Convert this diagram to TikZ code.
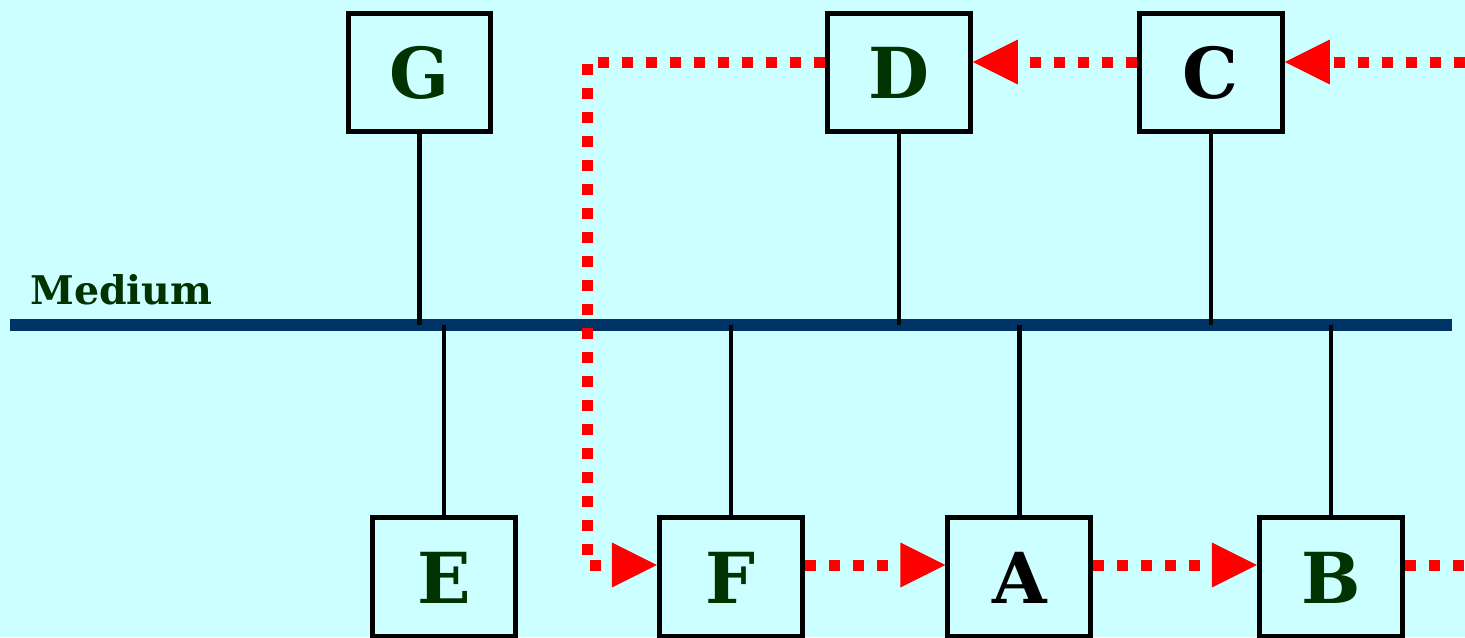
\documentclass[tikz,border=0pt]{standalone}
\usepackage{fontspec}
\setmainfont{DejaVu Serif}
\usetikzlibrary{arrows.meta}
\definecolor{bgcyan}{RGB}{204,255,255}
\definecolor{darkgreen}{RGB}{0,51,0}
\definecolor{medblue}{RGB}{0,51,102}
\tikzstyle{station} = [rectangle,draw,line width=0.1cm,minimum width=2.86cm,minimum height=2.38cm,text centered,font=\fontsize{40}{48}\selectfont\bfseries,text=darkgreen]
\tikzstyle{tap} = [line width=0.09cm]
\tikzstyle{token} = [red,line width=0.22cm,dash pattern=on 0.22cm off 0.26cm]
\tikzstyle{tokenarrow} = [token,-{Triangle[length=0.9cm,width=0.9cm,line width=0pt]}]

\begin{document}
\begin{tikzpicture}[x=0.02cm,y=-0.02cm]
		\fill[bgcyan] (0,0) rectangle (1465,637);
		\useasboundingbox (0,0) rectangle (1465,637);

		\node [station] (g) at (419.5,72.5) {G};
		\node [station,right of=g,xshift=8.59cm] (d) {D};
		\node [station,right of=d,xshift=5.24cm,text=black] (c) {C};
		\node [station,below of=g,xshift=0.49cm,yshift=-9.1cm] (e) {E};
		\node [station,right of=e,xshift=4.74cm] (f) {F};
		\node [station,right of=f,xshift=4.77cm,text=black] (a) {A};
		\node [station,right of=a,xshift=5.23cm] (b) {B};

		% the shared medium
		\coordinate (ml) at (10,325);
		\coordinate (mr) at (1452,325);
		\draw[medblue,line width=0.23cm] (ml)--(mr);
		\node [anchor=base west,inner sep=0pt,text=darkgreen,font=\fontsize{22.5}{27}\selectfont\bfseries] (medium) at (30,304) {Medium};

		\draw[tap](g.south)--(g.south |- ml);
		\draw[tap](d.south)--(d.south |- ml);
		\draw[tap](c.south)--(c.south |- ml);
		\draw[tap](e.north)--(e.north |- ml);
		\draw[tap](f.north)--(f.north |- ml);
		\draw[tap](a.north)--(a.north |- ml);
		\draw[tap](b.north)--(b.north |- ml);

		% token ring
		\coordinate (tr) at (1465,62);
		\coordinate (br) at (1465,565);
		\coordinate (tl) at (587,62);
		\coordinate (bl) at (587,565);
		\draw[tokenarrow](tr)--(c.east |- tr);
		\draw[tokenarrow](c.west |- tr)--(d.east |- tr);
		\draw[tokenarrow](d.west |- tr)--(tl)--(bl)--(f.west |- br);
		\draw[tokenarrow](f.east |- br)--(a.west |- br);
		\draw[tokenarrow](a.east |- br)--(b.west |- br);
		\draw[token](b.east |- br)--(br);
\end{tikzpicture}
\end{document}
